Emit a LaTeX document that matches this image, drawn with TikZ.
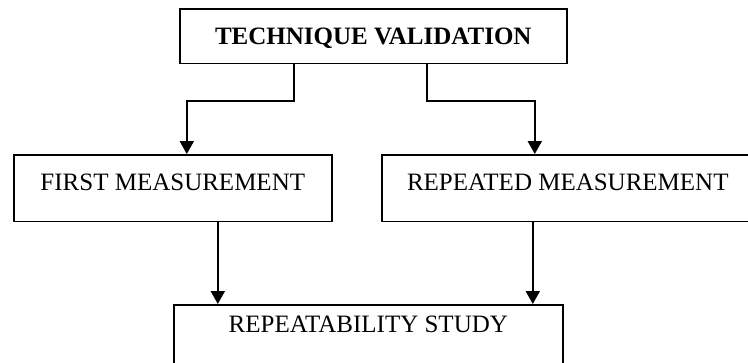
\documentclass[tikz,border=0pt]{standalone}
\usepackage{fontspec}
\setmainfont{Liberation Serif}
\usetikzlibrary{arrows.meta}

\tikzstyle{block} = [rectangle, draw, line width=1.6pt, anchor=north west, inner xsep=0pt, text height=16.5pt, font=\fontsize{25pt}{30pt}\selectfont]
\tikzstyle{arr} = [line width=2pt, -{Triangle[length=13pt,width=14pt]}]

\begin{document}
\begin{tikzpicture}[x=1pt, y=-1pt]
		\path[use as bounding box, clip] (0,0) rectangle (748,362);
		%\draw[help lines, step=50] (0,0) grid (748,362);
		\node[block, minimum width=387pt, inner ysep=19pt, text depth=0pt] (tech) at (179,8) {\textbf{TECHNIQUE VALIDATION}};
		\foreach \n/\x/\w/\t in {first/13/318/FIRST MEASUREMENT, rep/381/372/REPEATED MEASUREMENT}
			\node[block, minimum width=\w pt, inner ysep=19pt, text depth=12pt] (\n) at (\x,154) {\t};
		\node[block, minimum width=389pt, inner ysep=11pt, text depth=40pt] (study) at (173,304) {REPEATABILITY STUDY};
		% split from the top box
		\draw[arr] ([xshift=-79.5pt]tech.south) -- ++(0,37) -| ([xshift=14pt]first.north);
		\draw[arr] ([xshift=53.5pt]tech.south) -- ++(0,37) -| ([xshift=-33pt]rep.north);
		% join into the study
		\draw[arr] ([xshift=45pt]first.south) -- ([xshift=45pt]first.south |- study.north);
		\draw[arr] ([xshift=-35pt]rep.south) -- ([xshift=-35pt]rep.south |- study.north);
	\end{tikzpicture}
\end{document}
